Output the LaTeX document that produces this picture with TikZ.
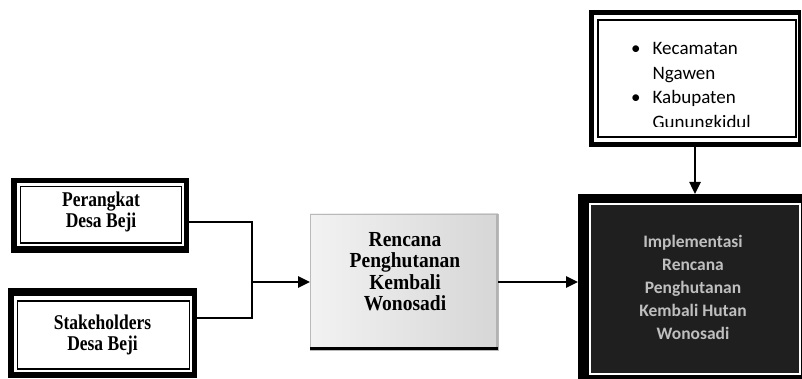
\documentclass[tikz,border=0pt]{standalone}
\usepackage{fontspec}
\setmainfont{Liberation Serif}
\newfontfamily\calib{Carlito}
\usetikzlibrary{arrows.meta}
\newcommand{\tallstack}[2]{\scalebox{1}[#1]{\begin{tabular}{@{}c@{}}#2\end{tabular}}}
\begin{document}
\begin{tikzpicture}[x=1pt,y=-1pt,
  box/.style={rectangle, draw=none, inner sep=0pt, outer sep=0pt},
  sertxt/.style={font=\fontsize{17.5}{17}\selectfont\bfseries, align=center, inner sep=0pt},
  midtxtstyle/.style={font=\fontsize{19.5}{19.5}\selectfont\bfseries, align=center, inner sep=0pt},
  thinline/.style={line width=1.3pt},
  conn/.style={line width=2.5pt},
  arr/.style={line width=2.5pt,-{Triangle[length=12pt,width=11pt]}},
]
\useasboundingbox (0,0) rectangle (802,379);

% named box outlines (invisible)
\node[box,minimum width=178pt,minimum height=75pt] (per) at (100,215.5) {};
\node[box,minimum width=189pt,minimum height=90pt] (stk) at (102.5,333) {};
\node[box,minimum width=188pt,minimum height=136pt] (mid) at (404,282) {};
\node[box,minimum width=224pt,minimum height=185pt] (dark) at (690,286.5) {};
\node[box,minimum width=212pt,minimum height=137pt] (top) at (695,78.5) {};

% Perangkat frame
\fill (per.north west) rectangle (per.south east);
\fill[white] ([shift={(6,5)}]per.north west) rectangle ([shift={(-5,-7)}]per.south east);
\draw[thinline] ([shift={(9.5,8.5)}]per.north west) rectangle ([shift={(-7.5,-10)}]per.south east);

% Stakeholders frame
\fill (stk.north west) rectangle (stk.south east);
\fill[white] ([shift={(6,8)}]stk.north west) rectangle ([shift={(-5,-6)}]stk.south east);
\draw[thinline] ([shift={(9.5,13)}]stk.north west) rectangle ([shift={(-7.5,-9)}]stk.south east);

% middle box
\shade[left color=gray!10, right color=gray!32] (mid.north west) rectangle (mid.south east);
\draw[gray!55, line width=0.7pt] (mid.north west) rectangle (mid.south east);
\draw[gray!60, line width=2pt] ([xshift=-1pt]mid.north east) -- ([xshift=-1pt]mid.south east);
\draw[line width=3pt] ([yshift=1.5pt]mid.south west) -- ([yshift=1.5pt]mid.south east);

% dark box
\fill (dark.north west) rectangle (dark.south east);
\fill[black!88] ([shift={(12,10)}]dark.north west) rectangle ([shift={(-2,-5)}]dark.south east);
\draw[white, line width=1.5pt] ([shift={(12,10)}]dark.north west) rectangle ([shift={(-2,-5)}]dark.south east);

% top box frame
\fill (top.north west) rectangle (top.south east);
\fill[white] ([shift={(5,5)}]top.north west) rectangle ([shift={(-3,-5)}]top.south east);
\draw[thinline] ([shift={(9,10)}]top.north west) rectangle ([shift={(-5,-10)}]top.south east);

% texts
\node[sertxt] (pertxt) at (101,213) {\tallstack{1.2}{Perangkat\\Desa Beji}};
\node[sertxt] (stktxt) at (102.5,336) {\tallstack{1.2}{Stakeholders\\Desa Beji}};
\node[midtxtstyle] (midtxt) at (405,274) {\tallstack{1.1}{Rencana\\Penghutanan\\Kembali\\Wonosadi}};
\node[font=\calib\bfseries\fontsize{17.5}{23}\selectfont, text=gray!50, align=center, inner sep=0pt] (darktxt) at (693,287)
  {Implementasi\\Rencana\\Penghutanan\\Kembali Hutan\\Wonosadi};
\begin{scope}
  \clip (598,20) rectangle (796,126.5);
  \node[anchor=base west, inner sep=0pt, font=\calib\fontsize{19}{24.5}\selectfont] (toptxt) at (631,55)
    {\begin{tabular}[t]{@{}l@{\hspace{12pt}}l@{}}
      \textbullet & Kecamatan\\
       & Ngawen\\
      \textbullet & Kabupaten\\
       & Gunungkidul
     \end{tabular}};
\end{scope}

% connectors
\coordinate (j) at (252,282);
\draw[conn] ([yshift=-6.5pt]per.east) -| (j);
\draw[conn] ([yshift=15pt]stk.east) -| (j);
\draw[arr] (j) -- (mid.west);
\draw[arr] (mid.east) -- (mid.east -| dark.west);
\draw[arr] (top.south) -- (top.south |- dark.north);
\end{tikzpicture}
\end{document}
